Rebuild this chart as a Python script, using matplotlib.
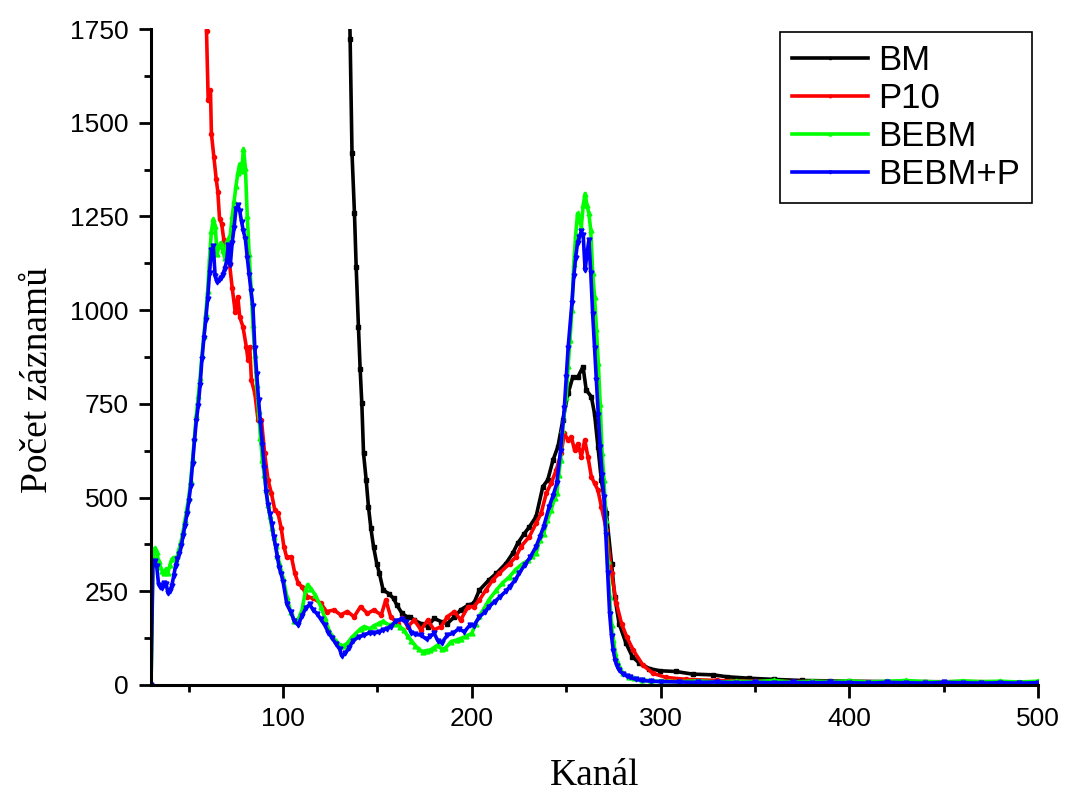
import matplotlib
matplotlib.use("Agg")
import matplotlib.pyplot as plt
from matplotlib.ticker import MultipleLocator

# BM
ch_bm = [135.2, 135.5, 136.5, 137.8, 138.7, 139.9, 140.8, 141.7, 142.6, 144, 145.2, 146.5, 147.9,
         149.6, 151, 153, 155.9, 158.5, 160.3, 163, 165.6, 167, 169.5, 173, 176.6, 180, 183.7, 187,
         190.8, 194, 198, 201, 204, 209, 213, 218, 221.6, 224.3, 227.8, 230.5, 234, 237.6, 240.2,
         243, 245.6, 248.2, 251, 253.5, 256.2, 258.9, 260.6, 263.3, 265, 266.8, 268.6, 271.3, 274,
         275.7, 278, 281.7, 285, 288.8, 294, 299.5, 308, 317, 328, 335, 347, 360, 375, 390, 400,
         420, 440, 460, 480, 500]
n_bm = [1800, 1724, 1418, 1258, 1116, 956, 844, 751, 618, 547, 476, 418, 369,
        324, 298, 253, 244, 231, 213, 191, 182, 182, 173, 164, 156, 178, 169, 164,
        182, 200, 213, 218, 253, 280, 298, 324, 351, 378, 404, 422, 449, 529, 547,
        600, 636, 707, 778, 822, 822, 849, 787, 769, 724, 636, 547, 458, 324,
        236, 164, 111, 76, 58, 44, 38, 36, 29, 27, 22, 18, 15, 12, 11, 10,
        9, 9, 8, 8, 8]

# P10
ch_p10 = [59.4, 60.3, 61.5, 62, 63.3, 64.5, 65.4, 66.3, 67.4, 68.6, 69.8, 71.6, 73, 74.6, 76, 77,
          78.7, 80.5, 81.4, 82.3, 83.2, 85, 86.7, 88.5, 90.2, 92, 93.8, 95.6, 97.3, 99, 100.4,
          101.8, 104.4, 106.2, 108, 110, 112.8, 116, 120, 123, 127, 130.5, 134, 137.6, 141, 144.7,
          148, 152, 154.4, 157, 160.6, 163, 166, 169.5, 173, 176.6, 180, 183.7, 187, 190.8, 194,
          198, 201, 204, 207.4, 211, 214.5, 220, 223.4, 226, 230.5, 234, 236.7, 239.4, 242, 244.7,
          247.3, 249, 251, 252.7, 254.4, 256.2, 258, 259.8, 261.5, 263.3, 265, 266.8, 268.6, 271.3,
          274, 276.6, 279.3, 282, 285.5, 290.6, 296, 303, 313.6, 330, 350, 370, 400, 430, 460, 500]
n_p10 = [1745, 1560, 1587, 1471, 1409, 1351, 1316, 1244, 1231, 1187, 1173, 1124, 1060, 996, 1036, 982,
         956, 902, 867, 902, 813, 778, 707, 707, 618, 547, 511, 467, 458, 418, 369,
         342, 342, 298, 271, 262, 236, 231, 218, 196, 200, 187, 196, 182, 209, 191,
         200, 187, 227, 182, 164, 180, 156, 173, 147, 173, 147, 156, 182, 196, 173,
         209, 209, 227, 253, 280, 298, 324, 342, 369, 396, 431, 458, 511, 538, 573,
         618, 671, 653, 662, 627, 644, 609, 653, 609, 556, 538, 520, 476, 413,
         298, 218, 164, 129, 93, 53, 31, 20, 15, 12, 10, 9, 9, 8, 9, 8]

# BEBM
ch_bebm = [30, 31, 32, 33, 34, 35, 36, 37, 38, 39, 40, 41, 42, 43, 44, 45, 46, 47, 48, 49, 50, 51, 52,
           53, 54, 55, 56, 57, 58, 59, 60, 61, 62, 63, 64, 65, 66, 67, 68, 69, 70, 71, 72, 73, 74,
           75, 76, 77, 78, 79, 80, 81, 82, 83, 84, 85, 86, 87, 88, 89, 90, 91, 92, 93, 94, 95, 96,
           97, 98, 99, 100, 102, 104, 106, 108, 110, 112, 113, 115, 117, 120, 122, 124, 126, 128,
           130, 132, 134, 136, 138, 141, 143, 146, 148, 151, 153, 156, 159, 162, 164, 166, 168, 170,
           172, 174, 176, 178, 180, 182, 184, 186, 189, 192, 194, 197, 200, 202, 204, 206, 209, 213,
           216, 220, 223, 227, 230, 232, 234, 236, 238, 240, 242, 244, 245, 246, 247, 248, 250, 251,
           252, 253, 254, 255, 256, 257, 258, 259, 260, 261, 262, 263, 264, 265, 266, 267, 268, 269,
           270, 271, 272, 273, 274, 275, 276, 277, 278, 280, 283, 286, 290, 295, 300, 310, 320, 330,
           340, 350, 360, 370, 380, 390, 400, 410, 420, 430, 440, 450, 460, 470, 480, 490, 500]
n_bebm = [0, 345, 365, 355, 330, 315, 305, 300, 310, 300, 320, 335, 340, 335, 345, 365, 385, 410, 440, 470, 500, 545, 600,
          660, 720, 770, 820, 880, 930, 990, 1050, 1140, 1210, 1243, 1225, 1150, 1170, 1180, 1160, 1140, 1180, 1190, 1200, 1250, 1290,
          1330, 1365, 1390, 1370, 1430, 1380, 1250, 1150, 1060, 960, 880, 800, 730, 660, 600, 560, 520, 480, 450, 420, 395, 370,
          345, 325, 305, 285, 235, 195, 172, 175, 200, 255, 268, 255, 240, 209, 180, 150, 130, 118,
          107, 105, 111, 125, 135, 150, 156, 150, 158, 165, 170, 160, 164, 155, 147, 130, 118, 105,
          95, 89, 92, 93, 100, 107, 95, 98, 116, 120, 124, 130, 138, 164, 185, 200, 227, 253,
          271, 289, 307, 324, 333, 345, 351, 387, 404, 440, 467, 500, 511, 560, 600, 680, 769, 850,
          920, 1000, 1124, 1200, 1258, 1240, 1222, 1280, 1311, 1280, 1258, 1213, 1100, 1036, 950, 858, 750, 620,
          547, 440, 330, 236, 160, 120, 85, 65, 50, 31, 22, 18, 14, 11, 10, 9, 11, 8,
          10, 9, 12, 8, 10, 9, 11, 8, 10, 12, 9, 8, 11, 9, 10, 8, 10]

# BEBM+P
ch_bp = [30, 31, 32, 33, 34, 35, 36, 37, 38, 39, 40, 41, 42, 43, 44, 45, 46, 47, 48, 49, 50, 51, 52,
         53, 54, 55, 56, 57, 58, 59, 60, 61, 62, 63, 64, 65, 66, 67, 68, 69, 70, 71, 72, 73, 74,
         75, 76, 77, 78, 79, 80, 81, 82, 83, 84, 85, 86, 87, 88, 89, 90, 91, 92, 93, 94, 95, 96,
         97, 98, 99, 100, 102, 104, 106, 108, 110, 112, 114, 116, 118, 120, 122, 124, 126, 128,
         130, 131, 133, 135, 137, 140, 143, 146, 148, 151, 153, 155, 157, 160, 163, 165, 168, 170,
         173, 176, 178, 180, 182, 184, 187, 190, 193, 196, 199, 201, 204, 207, 209, 212, 215, 218,
         220, 223, 225, 228, 231, 234, 236, 238, 241, 243, 245, 247, 249, 250, 251, 253, 254, 255,
         256, 257, 258, 259, 260, 261, 262, 263, 264, 265, 266, 267, 268, 269, 270, 271, 272, 273,
         274, 275, 276, 277, 278, 280, 282, 284, 287, 290, 295, 300, 310, 320, 330, 340, 350, 360,
         370, 380, 390, 400, 410, 420, 430, 440, 450, 460, 470, 480, 490, 500]
n_bp = [0, 320, 330, 318, 268, 262, 258, 272, 270, 245, 252, 265, 290, 318, 335, 350, 370, 398, 425, 455, 490, 530, 590,
        650, 705, 745, 800, 870, 925, 975, 1030, 1100, 1160, 1170, 1090, 1075, 1080, 1085, 1095, 1110, 1130, 1175, 1120, 1180, 1220,
        1270, 1280, 1265, 1235, 1210, 1190, 1140, 1095, 1050, 1010, 900, 830, 760, 700, 640, 580, 515, 480, 455, 430, 395, 370,
        340, 312, 295, 275, 215, 195, 170, 160, 185, 205, 215, 200, 190, 175, 160, 140, 125, 110,
        95, 78, 85, 100, 118, 128, 133, 140, 138, 142, 147, 150, 156, 172, 175, 168, 140, 135,
        133, 122, 130, 138, 118, 112, 133, 138, 150, 142, 160, 158, 182, 195, 209, 222, 236, 250,
        262, 280, 298, 320, 342, 369, 395, 422, 476, 505, 538, 625, 740, 822, 900, 1018, 1090, 1140,
        1180, 1196, 1210, 1200, 1107, 1150, 1187, 1100, 991, 900, 813, 720, 636, 560, 502, 400, 300, 190,
        130, 90, 65, 50, 40, 30, 24, 20, 15, 12, 10, 9, 8, 7, 8, 6, 7, 6,
        7, 6, 7, 6, 5, 7, 6, 5, 7, 6, 5, 6, 5, 6]

plt.rcParams['font.family'] = ['Liberation Sans', 'DejaVu Sans']

fig = plt.figure(figsize=(10.65, 7.93), dpi=100)
ax = fig.add_axes([0.1418, 0.1362, 0.8329, 0.8272])

ax.plot(ch_bm, n_bm, color='black', lw=2.6, marker='s', ms=3, label='BM')
ax.plot(ch_p10, n_p10, color='#ff0000', lw=2.6, marker='o', ms=3, label='P10')
ax.plot(ch_bebm, n_bebm, color='#00ff00', lw=2.6, marker='^', ms=3.5, label='BEBM')
ax.plot(ch_bp, n_bp, color='#0000ff', lw=2.6, marker='v', ms=3.5, label='BEBM+P')

ax.set_xlim(30, 500)
ax.set_ylim(0, 1750)
ax.set_xticks([100, 200, 300, 400, 500])
ax.xaxis.set_minor_locator(MultipleLocator(50))
ax.yaxis.set_major_locator(MultipleLocator(250))
ax.yaxis.set_minor_locator(MultipleLocator(125))

for s in ['top', 'right']:
    ax.spines[s].set_visible(False)
for s in ['left', 'bottom']:
    ax.spines[s].set_linewidth(2.2)

ax.tick_params(which='major', direction='out', length=9, width=2, labelsize=19, pad=7)
ax.tick_params(which='minor', direction='out', length=5, width=2)

ax.set_xlabel('Kanál', family='Liberation Serif', fontsize=27, labelpad=20)
ax.set_ylabel('Počet záznamů', family='Liberation Serif', fontsize=27, labelpad=11)
ax.yaxis.label.set_y(0.465)

leg = ax.legend(loc='upper right', bbox_to_anchor=(0.993, 0.995), borderaxespad=0,
                fontsize=25, fancybox=False, framealpha=1, edgecolor='black',
                handlelength=2.2, handletextpad=0.3, labelspacing=0.15, borderpad=0.33,
                numpoints=1, markerscale=0.6)
leg.get_frame().set_linewidth(1.2)

fig.savefig('out.png', dpi=100)
